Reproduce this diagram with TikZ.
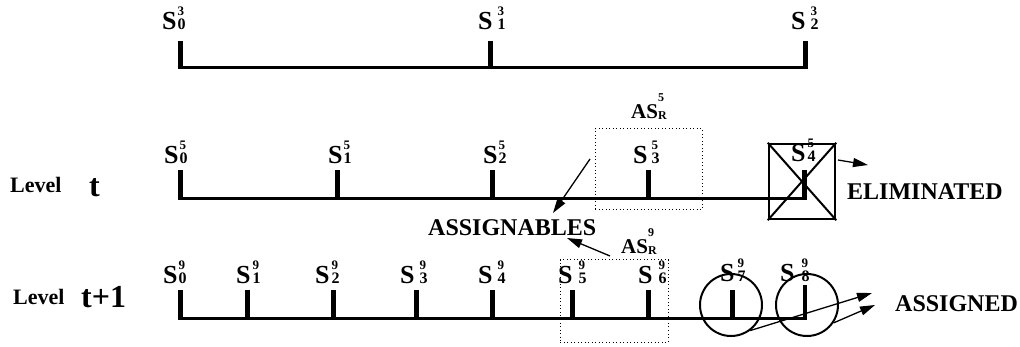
\documentclass[tikz,border=0pt]{standalone}
\usepackage{fontspec}
\setmainfont{Liberation Serif}
\usetikzlibrary{arrows.meta}
\newcommand{\Slab}[3]{{\fontsize{26}{26}\selectfont S}\hspace*{#3}\rlap{\raisebox{14pt}{\fontsize{13}{13}\selectfont #2}}{\fontsize{16}{16}\selectfont #1}}
\newcommand{\ASlab}[1]{{\fontsize{21}{21}\selectfont AS}\rlap{\raisebox{17pt}{\fontsize{12}{12}\selectfont #1}}\raisebox{-1pt}{\fontsize{12}{12}\selectfont R}}
\begin{document}
\begin{tikzpicture}[x=1pt,y=-1pt,
  seg/.style={line width=3.5pt},
  tickmark/.style={line width=5pt},
  lab/.style={anchor=base west,inner sep=0pt,font=\bfseries},
  big/.style={anchor=base west,inner sep=0pt,font=\bfseries\fontsize{24}{24}\selectfont},
  lvl/.style={anchor=base west,inner sep=0pt,font=\bfseries\fontsize{22}{22}\selectfont},
  lvlt/.style={anchor=base west,inner sep=0pt,font=\bfseries\fontsize{32}{32}\selectfont},
  arr/.style={line width=1.3pt,-{Triangle[length=15pt,width=9pt]}},
  dotbox/.style={draw,line width=1pt,dash pattern=on 1pt off 2.5pt,inner sep=0pt}]
\useasboundingbox (0,0) rectangle (1020,347);

% ---- row 1
\draw[seg] (177.5,67.5) -- (807,67.5);
\foreach \x in {180,490,805} \draw[tickmark] (\x,41) -- (\x,69);
\node[lab] (s30) at (162,30) {\Slab{0}{3}{1pt}};
\node[lab] (s31) at (478,30) {\Slab{1}{3}{5pt}};
\node[lab] (s32) at (791,30) {\Slab{2}{3}{5pt}};

% ---- row 2 (level t)
\node[lvl] (lv1) at (10,193) {Level};
\node[lvlt] (lt1) at (89,197) {t};
\draw[seg] (177.5,198.5) -- (807,198.5);
\foreach \x in {180,337,492,648,804} \draw[tickmark] (\x,170) -- (\x,200);
\node[lab] (s50) at (164,164) {\Slab{0}{5}{1pt}};
\node[lab] (s51) at (328,164) {\Slab{1}{5}{1pt}};
\node[lab] (s52) at (483,164) {\Slab{2}{5}{1pt}};
\node[lab] (s53) at (633,164) {\Slab{3}{5}{4pt}};
\node[lab] (s54) at (791,162) {\Slab{4}{5}{2pt}};

% ---- row 3 (level t+1)
\node[lvl] (lv2) at (13,305) {Level};
\node[lvlt] (lt2) at (81,308) {t+1};
\draw[seg] (177.5,318.5) -- (807,318.5);
\foreach \x in {180,247,333,416,492,572,648,732} \draw[tickmark] (\x,290) -- (\x,320);
\draw[line width=4pt] (805,285) -- (805,320);
\node[lab] (s90) at (163,284) {\Slab{0}{9}{1pt}};
\node[lab] (s91) at (236,284) {\Slab{1}{9}{2pt}};
\node[lab] (s92) at (315,284) {\Slab{2}{9}{2pt}};
\node[lab] (s93) at (400,284) {\Slab{3}{9}{5pt}};
\node[lab] (s94) at (478,284) {\Slab{4}{9}{5pt}};
\node[lab] (s95) at (558,284) {\Slab{5}{9}{6pt}};
\node[lab] (s96) at (638,284) {\Slab{6}{9}{6pt}};
\node[lab] (s97) at (720,282) {\Slab{7}{9}{3pt}};
\node[lab] (s98) at (780,282) {\Slab{8}{9}{7pt}};

% ---- dotted AS boxes
\node[dotbox,minimum width=107pt,minimum height=81pt] (box5) at (648.5,169.5) {};
\node[dotbox,minimum width=108pt,minimum height=82pt] (box9) at (614,301) {};
\node[lab] (as5) at (631,119) {\ASlab{5}};
\node[lab] (as9) at (621,254) {\ASlab{9}};

% ---- ASSIGNABLES
\node[big] (asg) at (428,236) {ASSIGNABLES};
\coordinate (a5s) at (590,159);
\coordinate (a5e) at (553,213);
\coordinate (a9s) at (610,256);
\coordinate (a9e) at (567,238);
\draw[arr] (a5s) -- (a5e);
\draw[arr] (a9s) -- (a9e);

% ---- ELIMINATED
\node[draw,line width=2.5pt,minimum width=66pt,minimum height=75pt,inner sep=0pt] (elbox) at (802,181.5) {};
\draw[line width=2pt] (elbox.north west) -- (elbox.south east);
\draw[line width=2pt] (elbox.north east) -- (elbox.south west);
\node[big] (elim) at (847,200) {ELIMINATED};
\coordinate (e1) at (838,160);
\coordinate (e2) at (868,165);
\draw[arr] (e1) -- (e2);

% ---- ASSIGNED
\node[circle,draw,line width=2pt,minimum size=62pt,inner sep=0pt] (c7) at (731,305) {};
\node[circle,draw,line width=2pt,minimum size=62pt,inner sep=0pt] (c8) at (807,305) {};
\node[big] (asd) at (895,312) {ASSIGNED};
\coordinate (g1) at (872,293);
\coordinate (g2) at (875,305);
\draw[arr] (c7.-53) -- (g1);
\draw[arr] (c8.-34) -- (g2);
\end{tikzpicture}
\end{document}
